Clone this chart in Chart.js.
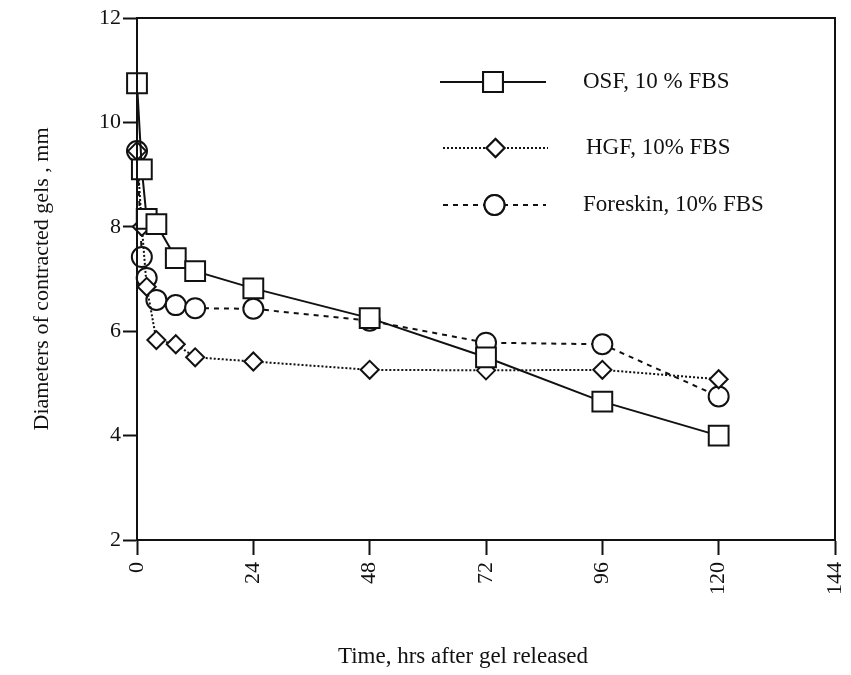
<!DOCTYPE html>
<html>
<head>
<meta charset="utf-8">
<script src="https://cdn.jsdelivr.net/npm/chart.js@4/dist/chart.umd.min.js"></script>
<style>
  body { margin: 0; background: #fff; }
  #wrap { width: 851px; height: 675px; }
</style>
</head>
<body>
<div id="wrap"><canvas id="myChart"></canvas></div>
<script>
// hours after gel released
var hours = [0, 1, 2, 4, 8, 12, 24, 48, 72, 96, 120];
// gel diameters (mm)
var osf = [10.75, 9.1, 8.15, 8.05, 7.4, 7.15, 6.82, 6.25, 5.5, 4.65, 4.0];
var hgf = [9.45, 8.0, 6.85, 5.83, 5.75, 5.5, 5.42, 5.26, 5.25, 5.26, 5.08];
var foreskin = [9.45, 7.42, 7.02, 6.6, 6.5, 6.44, 6.43, 6.2, 5.78, 5.75, 4.75];
var seriesNames = ['OSF, 10 % FBS', 'HGF, 10% FBS', 'Foreskin, 10% FBS'];
var xTicks = [0, 24, 48, 72, 96, 120, 144];
var yTicks = [2, 4, 6, 8, 10, 12];
var xTitle = 'Time, hrs after gel released';

var serif = '"Liberation Serif", "Times New Roman", serif';

function toPoints(ys) {
    return hours.map(function (h, i) { return { x: h, y: ys[i] }; });
}

function makeSet(label, ys, style, radius, dash) {
    return {
        label: label,
        data: toPoints(ys),
        showLine: true,
        clip: false,
        borderColor: '#111',
        borderWidth: 2,
        borderDash: dash,
        pointStyle: style,
        pointRadius: radius,
        pointBorderWidth: 2,
        pointBorderColor: '#111',
        pointBackgroundColor: '#fff',
        tension: 0
    };
}

// legend drawn by hand: line sample + marker + text
var legendRows = [
    { y: 82, x0: 440, x1: 546, tx: 583 },
    { y: 148, x0: 443, x1: 548, tx: 586 },
    { y: 205, x0: 443, x1: 546, tx: 583 }
];

var framePlugin = {
    id: 'frame',
    afterDraw: function (chart) {
        var ctx = chart.ctx;
        var a = chart.chartArea;
        ctx.save();
        ctx.strokeStyle = '#111';
        ctx.lineWidth = 2;
        ctx.strokeRect(a.left, a.top, a.right - a.left, a.bottom - a.top);

        chart.data.datasets.forEach(function (ds, i) {
            var r = legendRows[i];
            ctx.setLineDash(ds.borderDash || []);
            ctx.lineWidth = 2;
            ctx.beginPath();
            ctx.moveTo(r.x0, r.y);
            ctx.lineTo(r.x1, r.y);
            ctx.stroke();
            ctx.setLineDash([]);
            ctx.fillStyle = '#fff';
            Chart.helpers.drawPoint(ctx, {
                pointStyle: ds.pointStyle,
                radius: ds.pointRadius,
                borderWidth: 2
            }, (r.x0 + r.x1) / 2, r.y);
            ctx.fill();
            ctx.stroke();
            ctx.fillStyle = '#111';
            ctx.font = '23px ' + serif;
            ctx.textBaseline = 'middle';
            ctx.fillText(ds.label, r.tx, r.y);
        });

        // x axis title sits a little left of centre in the original
        ctx.font = '23px ' + serif;
        ctx.textAlign = 'center';
        ctx.textBaseline = 'middle';
        ctx.fillText(xTitle, 463, 657);
        ctx.restore();
    }
};

new Chart(document.getElementById('myChart'), {
    type: 'scatter',
    data: {
        datasets: [
            makeSet(seriesNames[0], osf, 'rect', 14, []),
            makeSet(seriesNames[1], hgf, 'rectRot', 9, [2, 2]),
            makeSet(seriesNames[2], foreskin, 'circle', 10, [5, 5])
        ]
    },
    options: {
        responsive: true,
        maintainAspectRatio: false,
        animation: false,
        layout: { padding: { left: 25, right: 12, top: 18, bottom: 3 } },
        plugins: {
            legend: { display: false },
            tooltip: { enabled: false }
        },
        scales: {
            x: {
                type: 'linear',
                min: 0,
                max: 144,
                afterBuildTicks: function (s) { s.ticks = xTicks.map(function (v) { return { value: v }; }); },
                afterFit: function (s) {
                    s.height = 132;
                    s.paddingLeft = 0;
                    s.paddingRight = 0;
                },
                grid: { drawOnChartArea: false, drawTicks: true, tickLength: 15, tickColor: '#111', tickWidth: 2 },
                border: { display: true, color: '#111', width: 2 },
                ticks: {
                    minRotation: 90, maxRotation: 90, padding: 7,
                    color: '#111', font: { family: serif, size: 22 }
                }
            },
            y: {
                min: 2,
                max: 12,
                afterBuildTicks: function (s) { s.ticks = yTicks.map(function (v) { return { value: v }; }); },
                afterFit: function (s) { s.width = 112; },
                grid: { drawOnChartArea: false, drawTicks: true, tickLength: 14, tickColor: '#111', tickWidth: 2 },
                border: { display: true, color: '#111', width: 2 },
                ticks: { padding: 2, color: '#111', font: { family: serif, size: 22 } },
                title: {
                    display: true, text: 'Diameters of contracted gels , mm',
                    color: '#111', font: { family: serif, size: 22 }
                }
            }
        }
    },
    plugins: [framePlugin]
});
</script>
</body>
</html>
